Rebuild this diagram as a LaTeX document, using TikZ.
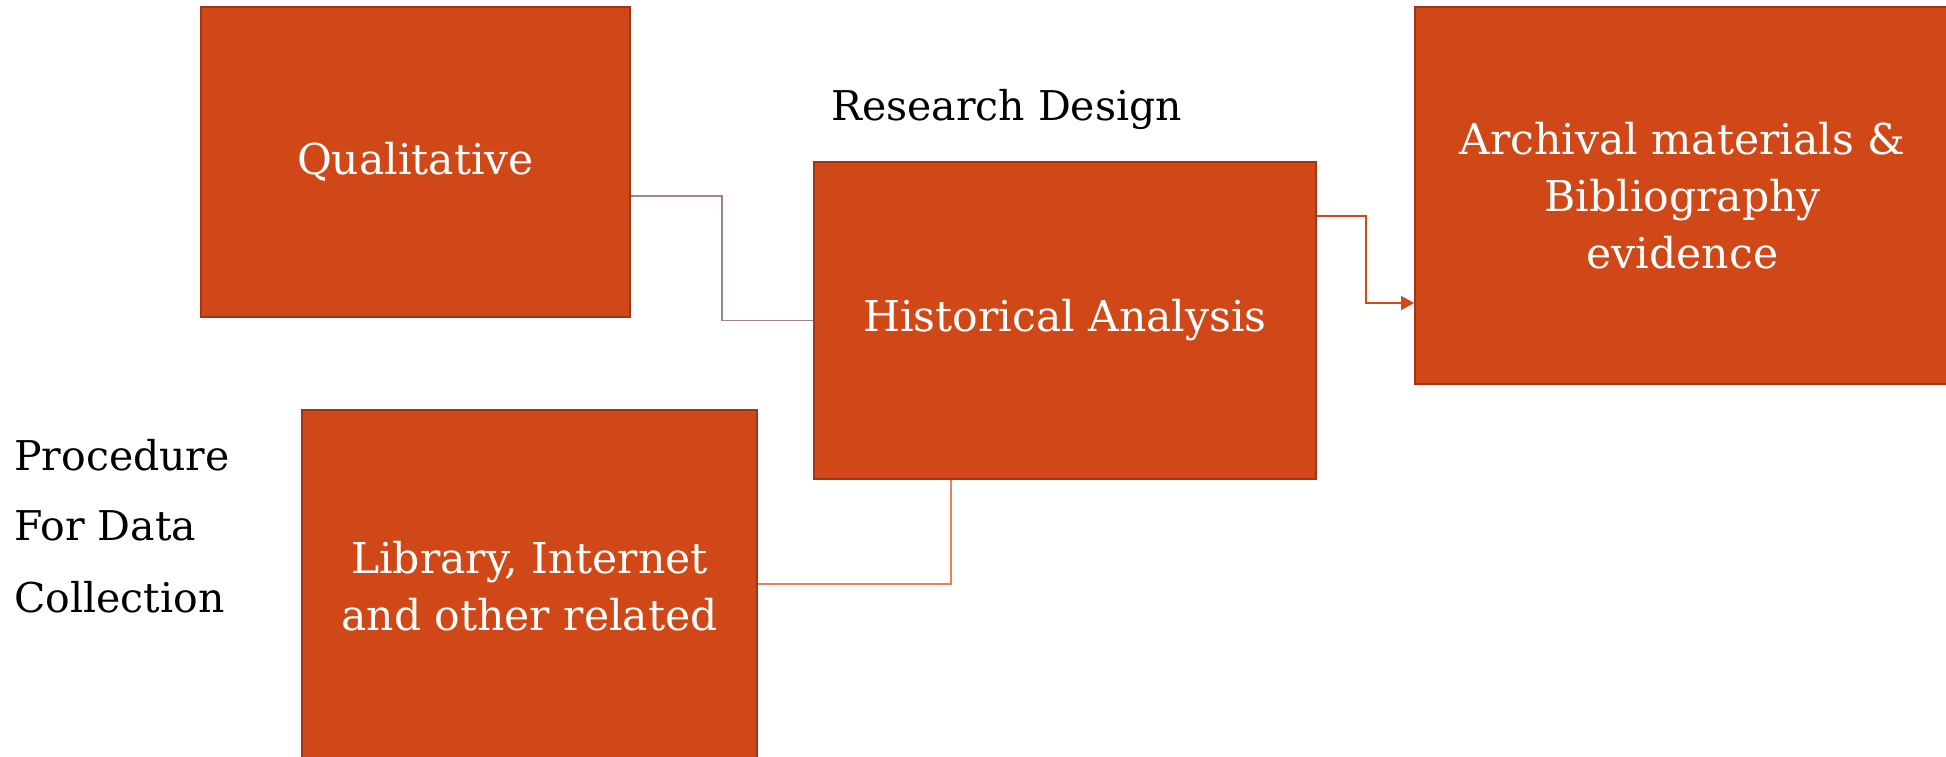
\documentclass[tikz,border=0pt]{standalone}
\usepackage{fontspec}
\setmainfont{DejaVu Serif}
\usetikzlibrary{arrows.meta,calc}
\definecolor{boxfill}{HTML}{D14818}
\definecolor{boxline}{HTML}{A33517}
\definecolor{greyline}{HTML}{A38584}
\definecolor{lightorange}{HTML}{E8805A}
\definecolor{arrowcol}{HTML}{D34817}
\tikzset{
  box/.style={draw=boxline, line width=2pt, fill=boxfill, text=white, align=center,
    inner sep=0pt, font=\fontsize{42.5}{57}\selectfont},
  label/.style={text=black, inner sep=0pt, font=\fontsize{41}{49}\selectfont},
  c1/.style={draw=greyline, line width=1.2pt},
  c2/.style={draw=arrowcol, line width=2pt, -{Triangle[length=13pt,width=14pt]}},
  c3/.style={draw=lightorange, line width=1.5pt}
}
\begin{document}
\begin{tikzpicture}[x=1pt,y=-1pt]
\useasboundingbox (0,0) rectangle (1946,757);
\fill[white] (0,0) rectangle (1946,757);
\node[box, minimum width=429pt, minimum height=309pt] (qual) at (415.5,162) {Qualitative};
\node[box, minimum width=502pt, minimum height=317pt] (hist) at (1065,320.5) {Historical Analysis};
\node[box, minimum width=535pt, minimum height=377pt] (arch) at (1682.5,195.5) {Archival materials \&\\Bibliography\\evidence};
\node[box, minimum width=455pt, minimum height=352pt] (lib) at (529.5,586) {Library, Internet\\and other related};
\node[label, anchor=base west] (rd) at (831,121) {Research Design};
\node[label, anchor=base west] (p1) at (14,470) {Procedure};
\node[label, anchor=base west] (p2) at (14,540) {For Data};
\node[label, anchor=base west] (p3) at (14,612) {Collection};
\draw[c1] ([yshift=-34pt]qual.east) -| ($(qual.east)!0.5!(hist.west)$) |- (hist.west);
\draw[c2] ([yshift=104.5pt]hist.east) -| ($(hist.east)!0.5!(arch.west)$) |- ([yshift=-107.5pt]arch.west);
\draw[c3] ([yshift=2pt]lib.east) -| ([xshift=-114pt]hist.south);
\end{tikzpicture}
\end{document}
